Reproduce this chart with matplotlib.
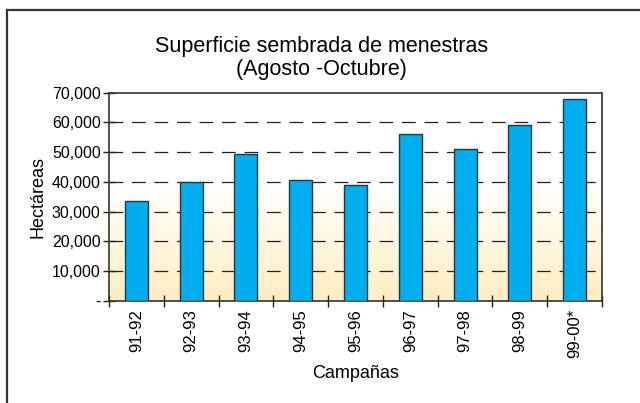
import matplotlib
matplotlib.use("Agg")
import matplotlib.pyplot as plt
import numpy as np
from matplotlib.colors import LinearSegmentedColormap
from matplotlib.lines import Line2D

plt.rcParams['font.family'] = ['Liberation Sans', 'DejaVu Sans']

campanas = ["91-92", "92-93", "93-94", "94-95", "95-96", "96-97", "97-98", "98-99", "99-00*"]
hectareas = [33700, 39800, 49400, 40600, 39100, 56000, 50900, 59000, 67800]
yticks = [0, 10000, 20000, 30000, 40000, 50000, 60000, 70000]
ytick_labels = ["-", "10,000", "20,000", "30,000", "40,000", "50,000", "60,000", "70,000"]

fig = plt.figure(figsize=(6.4, 4.03), dpi=100)
ax = fig.add_axes([109/640, 1 - 300.7/403, (602-109)/640, (300.7-92.7)/403])

# background gradient
n = len(campanas)
grad = np.linspace(0, 1, 256).reshape(-1, 1)
cmap = LinearSegmentedColormap.from_list("bg", [(0, "#FFEEC2"), (0.57, "#FFFFFF"), (1, "#FFFFFF")])
ax.imshow(grad, aspect='auto', cmap=cmap, origin='lower',
          extent=[-0.5, n - 0.5, 0, 70000], zorder=0)

x = np.arange(n)
ax.bar(x, hectareas, width=0.42, color="#00AEEF", edgecolor="#333333", linewidth=1.0, zorder=3)

ax.set_xlim(-0.5, n - 0.5)
ax.set_ylim(0, 70000)
for v in yticks[1:-1]:
    ax.axhline(v, color="#222222", linestyle=(0, (11, 7)), linewidth=0.9, zorder=2)

ax.set_yticks(yticks)
ax.set_yticklabels(ytick_labels, fontsize=11.5)
ax.set_xticks(x)
ax.set_xticklabels(campanas, rotation=90, fontsize=12)
ax.tick_params(axis='x', length=0, pad=6)
ax.set_xticks(np.arange(n + 1) - 0.5, minor=True)
ax.tick_params(axis='x', which='minor', direction='inout', length=8, width=1, color="#222222")
ax.tick_params(axis='y', direction='inout', length=8, width=1, color="#222222", pad=2)

for s in ax.spines.values():
    s.set_color("#333333")
    s.set_linewidth(1.2)

ax.set_ylabel("Hectáreas", fontsize=13, labelpad=4)
ax.set_xlabel("Campañas", fontsize=13, labelpad=5)
fig.text(0.502, 1 - 58/403, "Superficie sembrada de menestras\n(Agosto -Octubre)",
         ha='center', va='center', fontsize=15.5, linespacing=1.1)

# figure border (top and left)
fig.add_artist(Line2D([7/640, 1], [1 - 9.5/403, 1 - 9.5/403], transform=fig.transFigure, color="#333333", linewidth=1.6))
fig.add_artist(Line2D([7/640, 7/640], [0, 1 - 9.5/403], transform=fig.transFigure, color="#333333", linewidth=1.6))

fig.savefig("out.png", dpi=100)
